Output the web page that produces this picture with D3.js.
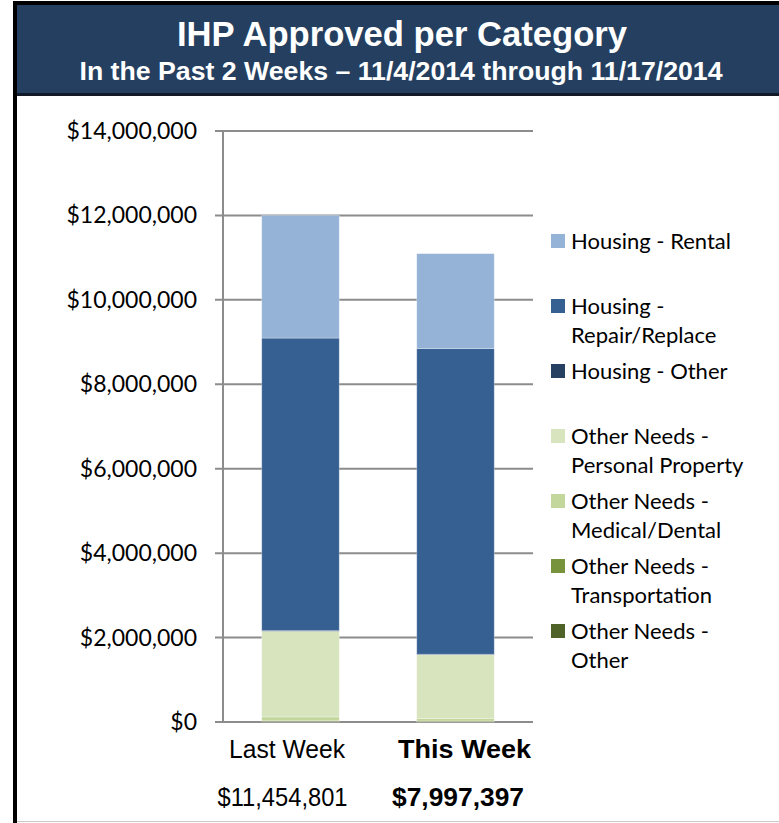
<!DOCTYPE html>
<html>
<head>
<meta charset="utf-8">
<script src="https://cdn.jsdelivr.net/npm/d3@7"></script>
<style>
  body { margin: 0; background: #fff; }
  svg { display: block; }
</style>
</head>
<body>
<div id="chart"></div>
<script>
// data
const WEEKS = ["Last Week", "This Week"];
const WEEK_TOTALS = ["$11,454,801", "$7,997,397"];
const CATEGORIES = [
  "Housing - Rental",
  "Housing - Repair/Replace",
  "Housing - Other",
  "Other Needs - Personal Property",
  "Other Needs - Medical/Dental",
  "Other Needs - Transportation",
  "Other Needs - Other"
];
const LEGEND_LINES = [
  ["Housing - Rental"],
  ["Housing -", "Repair/Replace"],
  ["Housing - Other"],
  ["Other Needs -", "Personal Property"],
  ["Other Needs -", "Medical/Dental"],
  ["Other Needs -", "Transportation"],
  ["Other Needs -", "Other"]
];
const RENTAL = [2905000, 2250000];
const REPAIR = [6930000, 7240000];
const HOUSING_OTHER = [15000, 12000];
const PERSONAL_PROPERTY = [2030000, 1510000];
const MEDICAL = [90000, 60000];
const TRANSPORTATION = [10000, 8000];
const NEEDS_OTHER = [20000, 15000];
const Y_TICKS = [0, 2000000, 4000000, 6000000, 8000000, 10000000, 12000000, 14000000];

const COLORS = ["#95b3d7", "#376092", "#254061", "#d7e4bd", "#c3d69b", "#77933c", "#4f6228"];

const W = 779, H = 823;
const PLOT = {left: 223, right: 533, top: 131, bottom: 722};

const svg = d3.select("#chart").append("svg")
    .attr("width", W)
    .attr("height", H);

// frame: black left/top border, navy title bar
svg.append("rect").attr("x", 13).attr("y", 1).attr("width", W - 13).attr("height", 4).attr("fill", "#000");
svg.append("rect").attr("x", 13).attr("y", 1).attr("width", 4).attr("height", H - 1).attr("fill", "#000");
svg.append("rect").attr("x", 17).attr("y", 5).attr("width", W - 17).attr("height", 88).attr("fill", "#243f60");
svg.append("rect").attr("x", 17).attr("y", 93).attr("width", W - 17).attr("height", 3).attr("fill", "#111a26");
svg.append("line").attr("x1", 17).attr("x2", W).attr("y1", 821.5).attr("y2", 821.5)
    .attr("stroke", "#c8c8c8").attr("stroke-width", 1);

svg.append("text")
    .attr("x", 402).attr("y", 46)
    .attr("text-anchor", "middle")
    .attr("fill", "#fff")
    .style("font", "bold 35px 'Liberation Sans', Arial, sans-serif")
    .attr("textLength", 450).attr("lengthAdjust", "spacingAndGlyphs")
    .text("IHP Approved per Category");

svg.append("text")
    .attr("x", 401).attr("y", 80)
    .attr("text-anchor", "middle")
    .attr("fill", "#fff")
    .style("font", "bold 25px 'Liberation Sans', Arial, sans-serif")
    .attr("textLength", 643).attr("lengthAdjust", "spacingAndGlyphs")
    .text("In the Past 2 Weeks \u2013 11/4/2014 through 11/17/2014");

// scales
const x = d3.scaleBand().domain(WEEKS).range([PLOT.left, PLOT.right]).paddingInner(0.5).paddingOuter(0.25);
const y = d3.scaleLinear().domain([0, 14000000]).range([PLOT.bottom, PLOT.top]);

// gridlines
svg.append("g")
    .selectAll("line")
    .data(Y_TICKS)
    .join("line")
      .attr("x1", PLOT.left - 8).attr("x2", PLOT.right)
      .attr("y1", d => y(d)).attr("y2", d => y(d))
      .attr("stroke", "#8c8c8c").attr("stroke-width", 2);

svg.append("line")
    .attr("x1", PLOT.left).attr("x2", PLOT.left)
    .attr("y1", PLOT.top).attr("y2", PLOT.bottom)
    .attr("stroke", "#8c8c8c").attr("stroke-width", 2);

// y tick labels
svg.append("g")
    .selectAll("text")
    .data(Y_TICKS)
    .join("text")
      .attr("x", 197)
      .attr("y", d => y(d))
      .attr("dy", "0.35em")
      .attr("text-anchor", "end")
      .attr("fill", "#000")
      .style("font", "23px Lato, 'Open Sans', sans-serif")
      .text(d => "$" + d3.format(",")(d));

// stacked bars
const SERIES = [RENTAL, REPAIR, HOUSING_OTHER, PERSONAL_PROPERTY, MEDICAL, TRANSPORTATION, NEEDS_OTHER];
const rows = WEEKS.map((w, i) => {
  const r = {week: w};
  CATEGORIES.forEach((c, j) => r[c] = SERIES[j][i]);
  return r;
});
const stack = d3.stack().keys(CATEGORIES.slice().reverse());
const layers = stack(rows);
const color = d3.scaleOrdinal().domain(CATEGORIES).range(COLORS);

svg.append("g")
    .selectAll("g")
    .data(layers)
    .join("g")
      .attr("fill", d => color(d.key))
    .selectAll("rect")
    .data(d => d)
    .join("rect")
      .attr("x", d => x(d.data.week))
      .attr("width", x.bandwidth())
      .attr("y", d => y(d[1]))
      .attr("height", d => y(d[0]) - y(d[1]))
      .attr("stroke", "#ffffff")
      .attr("stroke-opacity", 0.35)
      .attr("stroke-width", 0.8);

// legend
const legend = svg.append("g")
    .selectAll("g")
    .data(CATEGORIES)
    .join("g")
      .attr("transform", (d, i) => `translate(551,${241 + i * 65})`);

legend.append("rect")
    .attr("x", 0).attr("y", -7)
    .attr("width", 14).attr("height", 14)
    .attr("fill", d => color(d));

legend.append("text")
    .attr("fill", "#000")
    .style("font", "22px Lato, 'Open Sans', sans-serif")
    .selectAll("tspan")
    .data((d, i) => LEGEND_LINES[i])
    .join("tspan")
      .attr("x", 20)
      .attr("y", (d, i) => i * 29)
      .attr("dy", "0.35em")
      .text(d => d);

// week labels and totals under the bars
const LABEL_X = [287, 464.5];
const LABEL_W = [116, 133];
const TOTAL_X = [282.5, 458];
const TOTAL_W = [130, 132];

svg.append("g")
    .selectAll("text")
    .data(WEEKS)
    .join("text")
      .attr("x", (d, i) => LABEL_X[i])
      .attr("y", 758)
      .attr("text-anchor", "middle")
      .attr("fill", "#000")
      .style("font", (d, i) => `${i === 1 ? "bold " : ""}26px 'Liberation Sans', Arial, sans-serif`)
      .attr("textLength", (d, i) => LABEL_W[i]).attr("lengthAdjust", "spacingAndGlyphs")
      .text(d => d);

svg.append("g")
    .selectAll("text")
    .data(WEEK_TOTALS)
    .join("text")
      .attr("x", (d, i) => TOTAL_X[i])
      .attr("y", 806)
      .attr("text-anchor", "middle")
      .attr("fill", "#000")
      .style("font", (d, i) => `${i === 1 ? "bold " : ""}25px 'Liberation Sans', Arial, sans-serif`)
      .attr("textLength", (d, i) => TOTAL_W[i]).attr("lengthAdjust", "spacingAndGlyphs")
      .text(d => d);
</script>
</body>
</html>
